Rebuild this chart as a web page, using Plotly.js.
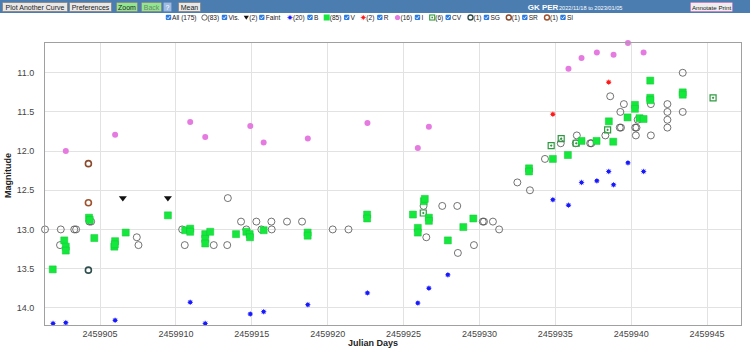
<!DOCTYPE html>
<html>
<head>
<meta charset="utf-8">
<script src="https://cdn.plot.ly/plotly-3.0.1.min.js"></script>
<style>
  html, body { margin:0; padding:0; background:#fff; }
  #wrap { position:relative; width:750px; height:351px; overflow:hidden; }
  #chart { position:absolute; left:0; top:0; width:750px; height:351px; }
  #hdr { position:absolute; left:0; top:0; }
</style>
</head>
<body>
<div id="wrap">
  <div id="chart"></div>
  <svg id="hdr" width="750" height="24" xmlns="http://www.w3.org/2000/svg"></svg>
</div>
<script>
// ---------------- DATA ----------------
const starName = "GK PER";
const dateRange = "2022/11/18 to 2023/01/05";

const visJD = [2459901.37,2459902.41,2459902.36,2459903.30,2459903.42,2459904.29,2459904.41,2459907.42,2459907.53,2459910.41,2459910.58,2459912.49,2459913.42,2459913.38,2459914.29,2459914.64,2459915.30,2459915.63,2459916.29,2459916.31,2459917.32,2459918.31,2459920.33,2459921.37,2459926.32,2459926.50,2459927.55,2459928.54,2459928.58,2459929.64,2459930.22,2459930.30,2459930.89,2459931.30,2459932.50,2459933.33,2459934.32,2459935.36,2459936.35,2459936.42,2459937.30,2459937.38,2459938.30,2459938.62,2459939.25,2459939.33,2459939.29,2459939.52,2459940.27,2459940.35,2459940.31,2459940.43,2459941.30,2459941.30,2459942.39,2459942.39,2459942.39,2459942.39,2459943.40,2459943.40];
const visMag = [13.0,13.0,13.2,13.0,13.0,12.9,12.9,13.1,13.2,13.0,13.2,13.2,12.6,13.2,12.9,13.0,12.9,13.0,12.9,13.0,12.9,12.9,13.0,13.0,12.7,13.1,12.7,12.7,13.3,13.2,12.9,12.9,12.9,13.0,12.4,12.5,12.1,11.9,11.9,11.8,11.9,11.9,11.8,11.3,11.7,11.7,11.5,11.4,11.7,11.7,11.8,11.6,11.8,11.4,11.4,11.5,11.6,11.7,11.0,11.5];

const vJD = [2459901.88,2459902.64,2459902.74,2459902.74,2459904.27,2459904.32,2459904.62,2459905.94,2459905.99,2459905.97,2459906.69,2459909.47,2459910.61,2459910.94,2459910.94,2459911.93,2459911.93,2459911.93,2459912.26,2459913.96,2459914.64,2459914.86,2459914.88,2459915.78,2459918.68,2459918.68,2459922.60,2459922.60,2459925.62,2459925.94,2459925.94,2459926.34,2459926.40,2459926.67,2459926.67,2459927.92,2459928.94,2459929.60,2459933.27,2459933.27,2459934.84,2459935.83,2459936.73,2459937.72,2459938.53,2459938.82,2459939.76,2459940.25,2459940.25,2459940.55,2459940.82,2459941.26,2459941.26,2459941.26,2459943.40,2459943.40,2459947.29];
const vMag = [13.51,13.14,13.22,13.27,12.85,12.88,13.11,13.22,13.15,13.19,13.04,12.82,13.01,12.99,13.03,13.06,13.12,13.18,13.03,13.06,13.03,13.06,13.10,13.01,13.04,13.08,12.81,12.86,12.81,12.98,13.04,12.64,12.61,12.85,12.89,13.14,12.97,12.86,12.22,12.26,12.10,12.05,11.87,11.87,11.62,11.88,11.57,11.41,11.46,11.58,11.59,11.10,11.32,11.35,11.25,11.28,11.30];

const bJD = [2459901.90,2459902.74,2459905.99,2459910.94,2459911.93,2459914.90,2459915.78,2459918.69,2459922.62,2459925.94,2459926.67,2459927.92,2459934.84,2459935.87,2459936.73,2459937.74,2459938.52,2459938.84,2459939.79,2459940.82];
const bMag = [14.20,14.19,14.16,13.93,14.20,14.08,14.05,13.96,13.81,13.94,13.75,13.58,12.62,12.69,12.40,12.38,12.26,12.43,12.15,12.26];

const iJD = [2459902.74,2459905.99,2459910.94,2459911.93,2459914.90,2459915.78,2459918.69,2459922.62,2459925.94,2459926.67,2459935.87,2459936.73,2459937.74,2459938.84,2459939.79,2459940.82];
const iMag = [12.00,11.79,11.63,11.82,11.68,11.89,11.84,11.64,11.96,11.69,10.95,10.81,10.74,10.77,10.62,10.74];

const rJD = [2459934.84,2459938.52];
const rMag = [11.53,11.12];

const faintJD = [2459906.50,2459909.47];
const faintMag = [12.60,12.60];

const cvJD = [2459926.30,2459934.73,2459935.39,2459936.38,2459938.45,2459945.40];
const cvMag = [12.79,11.93,11.84,11.90,11.73,11.32];

const sgJD = [2459904.23]; const sgMag = [13.52];
const srJD = [2459904.23]; const srMag = [12.16];
const siJD = [2459904.23]; const siMag = [12.66];

const xTickVals = [2459905,2459910,2459915,2459920,2459925,2459930,2459935,2459940,2459945];
const yTickVals = [11.0,11.5,12.0,12.5,13.0,13.5,14.0];

const legendItems = [
  {icon:'vis',  count:83,  name:'Vis.'},
  {icon:'faint',count:2,   name:'Faint'},
  {icon:'b',    count:20,  name:'B'},
  {icon:'v',    count:85,  name:'V'},
  {icon:'r',    count:2,   name:'R'},
  {icon:'i',    count:16,  name:'I'},
  {icon:'cv',   count:6,   name:'CV'},
  {icon:'sg',   count:1,   name:'SG'},
  {icon:'sr',   count:1,   name:'SR'},
  {icon:'si',   count:1,   name:'SI'}
];
const totalCount = 175;

// ---------------- COLORS ----------------
const C = {
  vis:'rgba(70,70,70,0.75)', v:'#14e83c', b:'#1a1aff', r:'#ff1a1a', i:'#e57be0',
  faint:'#111', cv:'#2e9a40', sg:'#2f4f4f', sr:'#8b4a2b', si:'#a0522d'
};

// ---------------- PLOT ----------------
const FONT = 'Liberation Sans, Arial, Helvetica, sans-serif';
const traces = [
  {x:visJD, y:visMag, type:'scatter', mode:'markers', cliponaxis:false,
   marker:{symbol:'circle', size:7, color:'rgba(255,255,255,0)', line:{color:C.vis, width:1}}},
  {x:cvJD, y:cvMag, type:'scatter', mode:'markers', cliponaxis:false,
   marker:{symbol:'square-open-dot', size:6, color:C.cv, line:{color:C.cv, width:1.2}}},
  {x:vJD, y:vMag, type:'scatter', mode:'markers', cliponaxis:false,
   marker:{symbol:'square', size:7, color:C.v, line:{color:'#10c834', width:0.5}}},
  {x:iJD, y:iMag, type:'scatter', mode:'markers', cliponaxis:false,
   marker:{symbol:'circle', size:6, color:C.i}},
  {x:bJD, y:bMag, type:'scatter', mode:'markers', cliponaxis:false,
   marker:{symbol:'circle', size:4, color:C.b}},
  {x:bJD, y:bMag, type:'scatter', mode:'markers', cliponaxis:false,
   marker:{symbol:'asterisk-open', size:4.5, color:C.b, line:{color:C.b, width:0.7}}},
  {x:rJD, y:rMag, type:'scatter', mode:'markers', cliponaxis:false,
   marker:{symbol:'circle', size:4, color:C.r}},
  {x:rJD, y:rMag, type:'scatter', mode:'markers', cliponaxis:false,
   marker:{symbol:'asterisk-open', size:4.5, color:C.r, line:{color:C.r, width:0.7}}},
  {x:faintJD, y:faintMag, type:'scatter', mode:'markers', cliponaxis:false,
   marker:{symbol:'triangle-down', size:7, color:C.faint}},
  {x:sgJD, y:sgMag, type:'scatter', mode:'markers', cliponaxis:false,
   marker:{symbol:'circle-open', size:6, color:C.sg, line:{color:C.sg, width:1.6}}},
  {x:srJD, y:srMag, type:'scatter', mode:'markers', cliponaxis:false,
   marker:{symbol:'circle-open', size:6, color:C.sr, line:{color:C.sr, width:1.6}}},
  {x:siJD, y:siMag, type:'scatter', mode:'markers', cliponaxis:false,
   marker:{symbol:'circle-open', size:6, color:C.si, line:{color:C.si, width:1.6}}}
];

const L = 45, R = 9, T = 43, B = 26, W = 750, H = 351;
const pw = W - L - R, ph = H - T - B;
const layout = {
  width:W, height:H, margin:{l:L, r:R, t:T, b:B, pad:0},
  paper_bgcolor:'#fff', plot_bgcolor:'#fff', showlegend:false,
  font:{family:FONT, size:9, color:'#333'},
  xaxis:{range:[2459901.37, 2459947.24], tickvals:xTickVals, ticktext:xTickVals.map(v=>String(v)),
    showgrid:true, gridcolor:'#e2e2e2', gridwidth:1, zeroline:false,
    showline:true, linecolor:'#a0a0a0', linewidth:1, mirror:true,
    ticks:'', ticklabelstandoff:0, tickfont:{family:FONT, size:9, color:'#444'}},
  yaxis:{range:[14.22, 10.62], tickvals:yTickVals, ticktext:yTickVals.map(v=>v.toFixed(1)),
    showgrid:true, gridcolor:'#e2e2e2', gridwidth:1, zeroline:false,
    showline:true, linecolor:'#a0a0a0', linewidth:1, mirror:true,
    ticks:'', ticklabelstandoff:8, tickfont:{family:FONT, size:9, color:'#444'}},
  annotations:[
    {text:'<b>Julian Days</b>', xref:'paper', yref:'paper', x:(373 - L)/pw, y:(T + ph - 342.5)/ph,
     xanchor:'center', yanchor:'middle', showarrow:false, font:{family:FONT, size:9, color:'#222'}},
    {text:'<b>Magnitude</b>', xref:'paper', yref:'paper', x:(8 - L)/pw, y:(T + ph - 176)/ph,
     xanchor:'center', yanchor:'middle', textangle:-90, showarrow:false, font:{family:FONT, size:9, color:'#222'}}
  ]
};

Plotly.newPlot('chart', traces, layout, {displayModeBar:false, staticPlot:true});

// ---------------- HEADER (toolbar + legend row) ----------------
const NS = 'http://www.w3.org/2000/svg';
const svg = document.getElementById('hdr');
function el(tag, attrs, text){
  const e = document.createElementNS(NS, tag);
  for (const k in attrs) e.setAttribute(k, attrs[k]);
  if (text !== undefined) e.textContent = text;
  svg.appendChild(e); return e;
}
el('rect', {x:0, y:0, width:750, height:13, fill:'#4b7db1'});
function button(x, w, label, bg, fg, stroke, fs){
  el('rect', {x:x+0.5, y:2.5, width:w, height:9, rx:1, fill:bg, stroke:stroke||'#8c8c8c', 'stroke-width':1});
  el('text', {x:x+0.5+w/2, y:9.6, 'text-anchor':'middle', 'font-family':FONT, 'font-size':fs||7, fill:fg}, label);
}
button(2, 65, 'Plot Another Curve', '#e8e8e8', '#222');
button(69, 42, 'Preferences', '#e8e8e8', '#222');
button(116, 21, 'Zoom', '#8fe88f', '#222');
button(141, 20, 'Back', '#8fe88f', '#6a8a6a');
button(163, 8, '?', '#9dbbe0', '#fff', '#6f95c4');
button(178, 22, 'Mean', '#e8e8e8', '#222');
button(690, 42, 'Annotate Print', '#eeeeee', '#222', '#c58ac5', 6.2);
el('text', {x:543, y:10, 'text-anchor':'middle', 'font-family':FONT, 'font-size':8, 'font-weight':'bold', fill:'#fff'}, starName);
el('text', {x:559, y:9.6, 'font-family':FONT, 'font-size':5.6, fill:'#fff'}, dateRange);

const LY = 17.5; // legend row centre
function checkbox(x){
  el('rect', {x:x, y:LY-2.8, width:5.4, height:5.4, rx:1, fill:'#2b7be6'});
  el('polyline', {points:`${x+1.2},${LY} ${x+2.3},${LY+1.3} ${x+4.3},${LY-1.4}`, fill:'none', stroke:'#fff', 'stroke-width':0.9});
}
function ltext(x, s){
  el('text', {x:x, y:LY+2.4, 'font-family':FONT, 'font-size':6.6, fill:'#222'}, s);
}
function icon(kind, cx){
  const cy = LY;
  switch(kind){
    case 'vis': el('circle', {cx, cy, r:2.7, fill:'#fff', stroke:'#444', 'stroke-width':0.8}); break;
    case 'faint': el('polygon', {points:`${cx-2.6},${cy-1.8} ${cx+2.6},${cy-1.8} ${cx},${cy+2.2}`, fill:'#111'}); break;
    case 'b':
    case 'r': {
      const col = kind==='b' ? C.b : C.r;
      if (kind==='b') el('circle', {cx, cy, r:1.5, fill:col});
      else el('polygon', {points:`${cx},${cy-1.8} ${cx+1.8},${cy} ${cx},${cy+1.8} ${cx-1.8},${cy}`, fill:col});
      el('path', {d:`M${cx-2.6},${cy}H${cx+2.6}M${cx},${cy-2.6}V${cy+2.6}M${cx-1.8},${cy-1.8}L${cx+1.8},${cy+1.8}M${cx-1.8},${cy+1.8}L${cx+1.8},${cy-1.8}`, stroke:col, 'stroke-width':0.7});
      break; }
    case 'v': el('rect', {x:cx-3, y:cy-3, width:6, height:6, fill:C.v}); break;
    case 'i': el('circle', {cx, cy, r:2.6, fill:C.i}); break;
    case 'cv':
      el('rect', {x:cx-2.5, y:cy-2.5, width:5, height:5, fill:'#fff', stroke:C.cv, 'stroke-width':1.1});
      el('rect', {x:cx-0.8, y:cy-0.8, width:1.6, height:1.6, fill:C.cv}); break;
    case 'sg': el('circle', {cx, cy, r:2.5, fill:'#fff', stroke:C.sg, 'stroke-width':1.4}); break;
    case 'sr': el('circle', {cx, cy, r:2.5, fill:'#fff', stroke:C.sr, 'stroke-width':1.4}); break;
    case 'si': el('circle', {cx, cy, r:2.5, fill:'#fff', stroke:C.si, 'stroke-width':1.4}); break;
  }
}
checkbox(165.8); ltext(172, `All (${totalCount})`);
const itemX = [204.5, 246.3, 290, 326.7, 363.3, 397.5, 432.2, 470.5, 508.8, 547];
const cntW  = [13, 8.5, 13, 13, 9.5, 13, 9, 9, 9, 9];
legendItems.forEach((it, k) => {
  const cx = itemX[k];
  icon(it.icon, cx);
  ltext(cx + 3, `(${it.count})`);
  const cbx = cx + 3 + cntW[k] + 1.3;
  checkbox(cbx);
  ltext(cbx + 6.6, it.name);
});
</script>
</body>
</html>
